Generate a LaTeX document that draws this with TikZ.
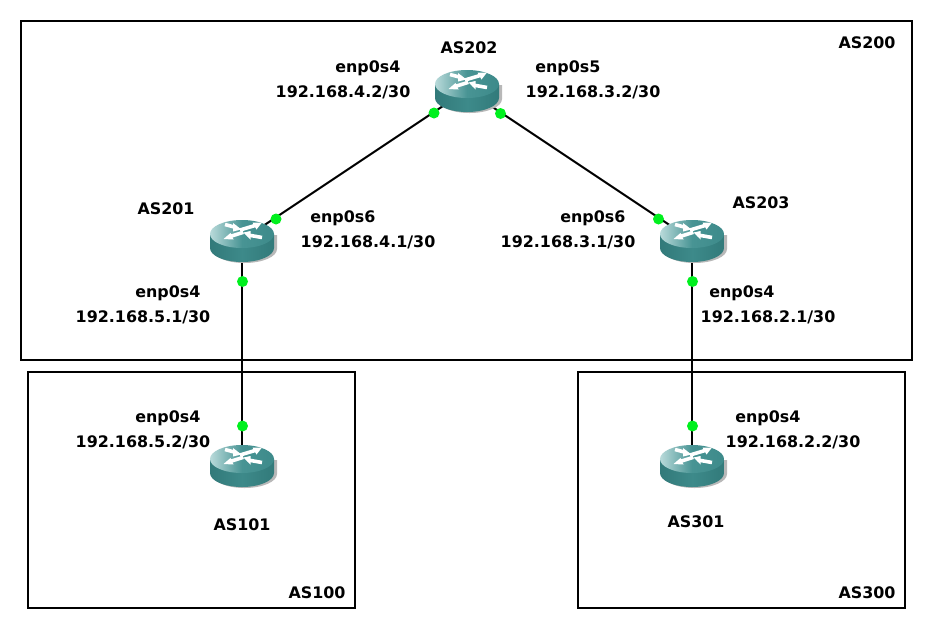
\documentclass[tikz,border=0pt]{standalone}
\usepackage{fontspec}
\setmainfont{DejaVu Sans}
\definecolor{rbody}{RGB}{61,138,138}
\definecolor{rdark}{RGB}{50,122,122}
\definecolor{rlight}{RGB}{185,218,218}
\definecolor{rmid}{RGB}{72,148,148}
\definecolor{rgreen}{RGB}{0,240,30}
\begin{document}
\begin{tikzpicture}[x=1pt,y=-1pt,
  asbox/.style={draw=black,line width=1.5pt},
  link/.style={draw=black,line width=2pt},
  lbl/.style={font=\fontsize{15.9}{17}\selectfont\bfseries,text=black,inner sep=0pt,anchor=center,yshift=-0.9pt},
  ifname/.style={lbl,xshift=0.8pt},
  dot/.style={circle,fill=rgreen,draw=none,minimum size=11pt,inner sep=0pt},
  anchorpt/.style={inner sep=0pt,minimum size=0pt},
  routershaft/.style={draw=white,line width=3.6pt}]
\useasboundingbox (0,0) rectangle (933,630);
\fill[white] (0,0) rectangle (933,630);
\newcommand{\routerart}[1]{%
  \begin{scope}[shift={(#1)}]
    \fill[black!28] (-30,-5) -- (-30,9) arc[start angle=180,end angle=0,x radius=32.5,y radius=14] -- (35,-5) -- cycle;
    \path[left color=rdark,right color=rdark,middle color=rbody]
      (-32,-6) -- (-32,8) arc[start angle=180,end angle=0,x radius=32,y radius=14] -- (32,-6) -- cycle;
    \path[left color=rlight,right color=rbody,middle color=rmid]
      (0,-6) ellipse[x radius=32,y radius=14];
    \draw[routershaft] (-2,-10) -- (13,-14.5);
    \fill[white] (20,-17.5) -- (10.5,-17.5) -- (14.5,-10.5) -- cycle;
    \draw[routershaft] (1.3,-7.7) -- (-12,-3.5);
    \fill[white] (-18.5,-1) -- (-11.5,-7) -- (-8.5,-0.5) -- cycle;
    \draw[routershaft] (-17,-15.5) -- (-6,-12.5);
    \fill[white] (-0.5,-10.5) -- (-9,-17) -- (-9,-8.5) -- cycle;
    \draw[routershaft] (20,-2.5) -- (6,-5);
    \fill[white] (1.5,-7.5) -- (8.5,-9) -- (8.5,-0.5) -- cycle;
  \end{scope}}

\draw[asbox] (21,21) rectangle (912,360);
\draw[asbox] (28,372) rectangle (355,608);
\draw[asbox] (578,372) rectangle (905,608);

\node[anchorpt] (r202) at (467,90) {};
\node[anchorpt] (r201) at (242,240) {};
\node[anchorpt] (r203) at (692,240) {};
\node[anchorpt] (r101) at (242,465) {};
\node[anchorpt] (r301) at (692,465) {};

\draw[link] (r202) -- (r201);
\draw[link] (r202) -- (r203);
\draw[link] (r201) -- (r101);
\draw[link] (r203) -- (r301);

\routerart{r202}
\routerart{r201}
\routerart{r203}
\routerart{r101}
\routerart{r301}

\node[dot] (d1) at (434,113) {};
\node[dot] (d2) at (500.5,113.5) {};
\node[dot] (d3) at (276,219) {};
\node[dot] (d4) at (658.5,219) {};
\node[dot] (d5) at (242.5,281.5) {};
\node[dot] (d6) at (692.5,281.5) {};
\node[dot] (d7) at (242.5,426) {};
\node[dot] (d8) at (692.5,426) {};

\node[lbl] (t1) at (469,47) {AS202};
\node[ifname] (t2) at (367,67) {enp0s4};
\node[lbl] (t3) at (343,91) {192.168.4.2/30};
\node[ifname] (t4) at (567,67) {enp0s5};
\node[lbl] (t5) at (593,91) {192.168.3.2/30};
\node[lbl] (t6) at (867,42) {AS200};
\node[lbl] (t7) at (166,208) {AS201};
\node[ifname] (t8) at (342,217) {enp0s6};
\node[lbl] (t9) at (368,241) {192.168.4.1/30};
\node[ifname] (t10) at (592,217) {enp0s6};
\node[lbl] (t11) at (568,241) {192.168.3.1/30};
\node[lbl] (t12) at (761,202) {AS203};
\node[ifname] (t13) at (167,292) {enp0s4};
\node[lbl] (t14) at (143,316) {192.168.5.1/30};
\node[ifname] (t15) at (741,292) {enp0s4};
\node[lbl] (t16) at (768,316) {192.168.2.1/30};
\node[ifname] (t17) at (167,417) {enp0s4};
\node[lbl] (t18) at (143,441) {192.168.5.2/30};
\node[ifname] (t19) at (767,417) {enp0s4};
\node[lbl] (t20) at (793,441) {192.168.2.2/30};
\node[lbl] (t21) at (242,524) {AS101};
\node[lbl] (t22) at (696,521) {AS301};
\node[lbl] (t23) at (317,592) {AS100};
\node[lbl] (t24) at (867,592) {AS300};
\end{tikzpicture}
\end{document}
